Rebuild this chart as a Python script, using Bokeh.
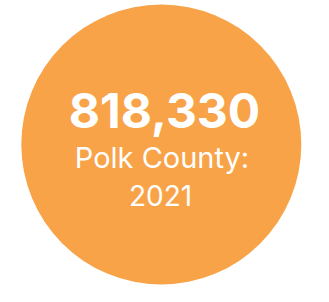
from bokeh.plotting import figure
from bokeh.models import Range1d
from bokeh.core.properties import value
from bokeh.embed import file_html
from bokeh.resources import INLINE

# data
headline = ["818,330"]
label = ["Polk County:"]
year = ["2021"]

W, H = 313, 286
p = figure(width=W, height=H, output_backend="svg", toolbar_location=None,
           x_range=Range1d(0, W), y_range=Range1d(0, H), min_border=0,
           border_fill_color="white", background_fill_color="white")
p.axis.visible = False
p.grid.visible = False
p.outline_line_color = None

p.circle(x=[160.8], y=[142], radius=140, fill_color="#F8A348", line_color=None)

p.text(x=[164], y=[176], text=headline, text_font=value("Inter"), text_font_style="bold",
       text_font_size="48px", text_align="center", text_baseline="alphabetic", text_color="white")
p.text(x=[161.5], y=[129], text=label, text_font=value("Inter"),
       text_font_size="29px", text_align="center", text_baseline="alphabetic", text_color="white")
p.text(x=[160], y=[91], text=year, text_font=value("Inter"),
       text_font_size="28px", text_align="center", text_baseline="alphabetic", text_color="white")

open("out.html", "w").write(file_html(p, INLINE))
